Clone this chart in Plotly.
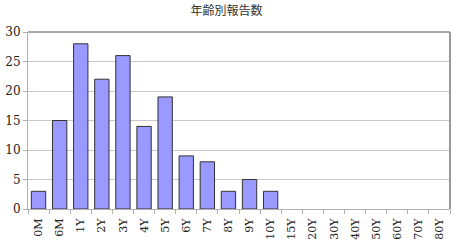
import plotly.graph_objects as go

categories = ["0M", "6M", "1Y", "2Y", "3Y", "4Y", "5Y", "6Y", "7Y", "8Y", "9Y", "10Y",
              "15Y", "20Y", "30Y", "40Y", "50Y", "60Y", "70Y", "80Y"]
counts = [3, 15, 28, 22, 26, 14, 19, 9, 8, 3, 5, 3,
          None, None, None, None, None, None, None, None]
title_text = "年齢別報告数"

serif = "DejaVu Serif"

fig = go.Figure(go.Bar(
    x=categories, y=counts,
    marker=dict(color="#9999FF", line=dict(color="#333333", width=1)),
))

fig.update_layout(
    width=453, height=248,
    margin=dict(l=28, r=3, t=32, b=39),
    paper_bgcolor="white", plot_bgcolor="white",
    bargap=0.32,
    showlegend=False,
    title=dict(text=title_text, x=0.5, xanchor="center", y=0.975, yanchor="top",
               font=dict(family="Noto Sans CJK JP", size=12, color="#333333")),
    xaxis=dict(
        type="category", tickangle=-90,
        tickfont=dict(family=serif, size=11, color="#222222"),
        showline=True, linecolor="#b0b0b0", linewidth=1,
        ticks="outside", ticklen=4, tickcolor="#b0b0b0", tickson="boundaries",
        ticklabelstandoff=4,
        showgrid=False,
    ),
    yaxis=dict(
        range=[0, 30], dtick=5,
        tickfont=dict(family=serif, size=12, color="#222222"),
        showline=True, linecolor="#b0b0b0", linewidth=1,
        ticks="outside", ticklen=4, tickcolor="#b0b0b0",
        gridcolor="#c8c8c8", gridwidth=1, zeroline=False,
    ),
    shapes=[
        dict(type="line", xref="paper", yref="paper", x0=0, x1=1, y0=1, y1=1,
             line=dict(color="#555555", width=1)),
        dict(type="line", xref="paper", yref="paper", x0=1, x1=1, y0=0, y1=1,
             line=dict(color="#999999", width=2)),
    ],
)

fig.write_html("out.html")
